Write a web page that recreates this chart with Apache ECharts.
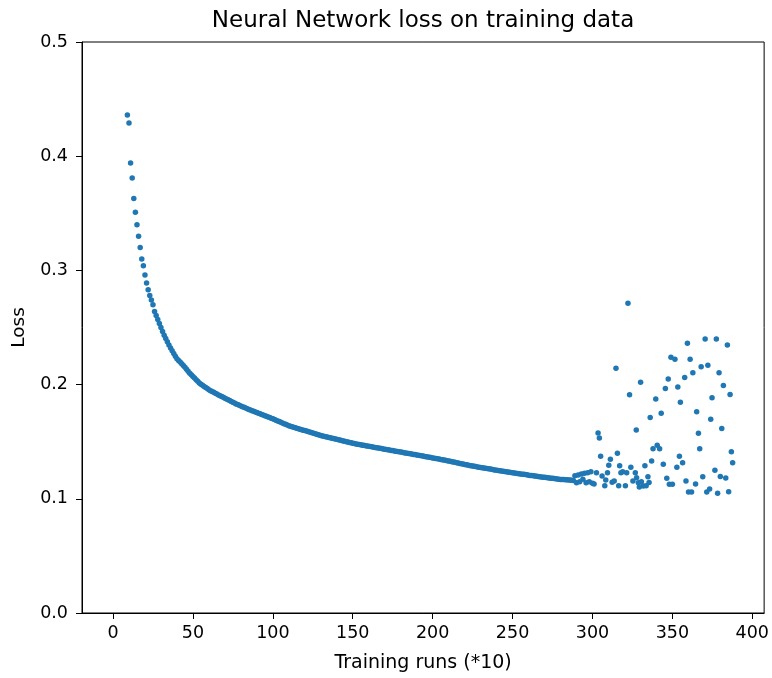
<!DOCTYPE html>
<html>
<head>
<meta charset="utf-8">
<title>Neural Network loss on training data</title>
<script src="https://cdn.jsdelivr.net/npm/echarts@6/dist/echarts.min.js"></script>
<style>
  html, body { margin: 0; padding: 0; background: #ffffff; }
  #chart { width: 772px; height: 678px; }
</style>
</head>
<body>
<div id="chart"></div>
<script>
// Loss recorded every 10 training runs; steady phase uses consecutive run indices
const steadyStart = 9;
const steadyLoss = [
  // 9-18
  0.436,0.429,0.394,0.381,0.363,0.351,0.340,0.330,0.320,0.310,
  // 19-28
  0.304,0.296,0.289,0.283,0.278,0.274,0.270,0.264,0.2605,0.2570,
  // 29-38
  0.2535,0.2499,0.2464,0.2433,0.2404,0.2376,0.2347,0.2320,0.2297,0.2273,
  // 39-48
  0.2249,0.2227,0.2212,0.2198,0.2183,0.2168,0.2151,0.2134,0.2117,0.2100,
  // 49-58
  0.2086,0.2071,0.2057,0.2043,0.2029,0.2014,0.2003,0.1994,0.1984,0.1974,
  // 59-68
  0.1965,0.1955,0.1946,0.1939,0.1932,0.1925,0.1917,0.1910,0.1903,0.1896,
  // 69-78
  0.1889,0.1881,0.1874,0.1867,0.1860,0.1853,0.1846,0.1839,0.1831,0.1825,
  // 79-88
  0.1819,0.1813,0.1807,0.1801,0.1795,0.1789,0.1783,0.1777,0.1772,0.1766,
  // 89-98
  0.1761,0.1755,0.1750,0.1744,0.1739,0.1733,0.1728,0.1722,0.1717,0.1711,
  // 99-108
  0.1706,0.1700,0.1694,0.1688,0.1682,0.1676,0.1670,0.1664,0.1658,0.1652,
  // 109-118
  0.1646,0.1640,0.1635,0.1631,0.1627,0.1622,0.1618,0.1614,0.1610,0.1605,
  // 119-128
  0.1601,0.1597,0.1593,0.1589,0.1584,0.1580,0.1576,0.1572,0.1568,0.1563,
  // 129-138
  0.1559,0.1555,0.1551,0.1547,0.1544,0.1541,0.1537,0.1534,0.1531,0.1527,
  // 139-148
  0.1524,0.1521,0.1517,0.1514,0.1510,0.1507,0.1504,0.1500,0.1497,0.1494,
  // 149-158
  0.1490,0.1487,0.1484,0.1480,0.1478,0.1475,0.1473,0.1470,0.1468,0.1465,
  // 159-168
  0.1462,0.1460,0.1457,0.1455,0.1452,0.1450,0.1447,0.1445,0.1442,0.1440,
  // 169-178
  0.1437,0.1434,0.1432,0.1429,0.1427,0.1424,0.1422,0.1419,0.1417,0.1414,
  // 179-188
  0.1412,0.1409,0.1407,0.1404,0.1402,0.1399,0.1397,0.1394,0.1392,0.1389,
  // 189-198
  0.1387,0.1384,0.1382,0.1379,0.1377,0.1374,0.1371,0.1369,0.1366,0.1363,
  // 199-208
  0.1361,0.1358,0.1356,0.1353,0.1350,0.1348,0.1345,0.1343,0.1340,0.1337,
  // 209-218
  0.1334,0.1331,0.1328,0.1325,0.1322,0.1319,0.1316,0.1313,0.1310,0.1307,
  // 219-228
  0.1304,0.1301,0.1298,0.1295,0.1292,0.1289,0.1287,0.1284,0.1282,0.1279,
  // 229-238
  0.1277,0.1275,0.1272,0.1270,0.1267,0.1265,0.1263,0.1260,0.1258,0.1255,
  // 239-248
  0.1253,0.1251,0.1248,0.1246,0.1243,0.1241,0.1239,0.1236,0.1234,0.1232,
  // 249-258
  0.1230,0.1228,0.1226,0.1224,0.1222,0.1220,0.1218,0.1216,0.1214,0.1212,
  // 259-268
  0.1210,0.1207,0.1205,0.1203,0.1201,0.1199,0.1197,0.1195,0.1193,0.1191,
  // 269-278
  0.1189,0.1188,0.1186,0.1184,0.1182,0.1180,0.1179,0.1177,0.1175,0.1173,
  // 279-288
  0.1171,0.1170,0.1169,0.1168,0.1167,0.1166,0.1165,0.1165,0.1163,0.1160,
  // 289-298
  0.1202,0.1141,0.1208,0.1150,0.1217,0.1171,0.1223,0.1141,0.1229,0.1150,
  // 299-301
  0.1237,0.1136,0.1130
];

// Unstable phase: run index and loss for each recorded point
const lateRuns = [
  302.5,303.5,304.3,305.1,306.0,307.7,308.3,309.4,310.2,311.2,
  312.3,313.6,314.7,315.6,316.4,317.0,317.8,318.9,320.6,321.4,
  322.2,323.2,324.0,325.3,326.8,327.4,327.6,328.7,329.3,330.1,
  330.6,331.8,332.8,333.6,334.7,335.4,336.1,337.0,337.9,339.6,
  340.5,342.0,343.0,344.3,345.6,346.5,347.4,348.1,349.1,350.0,
  351.6,352.8,353.4,354.4,355.0,356.4,357.7,358.5,359.4,360.1,
  361.1,362.0,362.8,364.5,365.2,366.3,367.1,368.0,369.0,370.5,
  371.5,372.2,373.3,374.0,374.8,376.6,377.5,378.3,379.2,380.0,
  380.9,381.9,383.4,384.4,385.2,386.1,386.9,387.7
];
const lateLoss = [
  0.1229,0.1576,0.1532,0.1372,0.1199,0.1115,0.1165,0.1229,0.1293,0.1346,
  0.1145,0.1156,0.2143,0.1398,0.1115,0.1290,0.1229,0.1237,0.1115,0.1229,
  0.2712,0.1912,0.1276,0.1156,0.1229,0.1602,0.1185,0.1141,0.1104,0.2020,
  0.1150,0.1112,0.1290,0.1115,0.1194,0.1143,0.1711,0.1330,0.1439,0.1873,
  0.1468,0.1439,0.1750,0.1303,0.1965,0.1180,0.2048,0.1128,0.2239,0.1127,
  0.2222,0.1276,0.1980,0.1373,0.1845,0.1316,0.2062,0.1156,0.2362,0.1060,
  0.2222,0.1060,0.2103,0.1130,0.1763,0.1574,0.1439,0.2156,0.1194,0.2399,
  0.1060,0.2169,0.1086,0.1696,0.1885,0.1250,0.2399,0.1048,0.2103,0.1196,
  0.1615,0.1992,0.1182,0.2347,0.1061,0.1913,0.1413,0.1316
];

const xTicks = [0, 50, 100, 150, 200, 250, 300, 350, 400];

const points = steadyLoss.map((v, i) => [steadyStart + i, v])
  .concat(lateRuns.map((r, i) => [r, lateLoss[i]]));

const FONT = 'DejaVu Sans';
const INK = '#000000';

const chart = echarts.init(document.getElementById('chart'), null, { renderer: 'canvas' });
chart.setOption({
  animation: false,
  backgroundColor: '#ffffff',
  title: {
    text: 'Neural Network loss on training data',
    left: 418,
    top: 5,
    textAlign: 'center',
    textStyle: { fontFamily: FONT, fontSize: 23, fontWeight: 'normal', color: INK }
  },
  grid: {
    left: 82, right: 5, top: 42, bottom: 65,
    show: true, borderColor: INK, borderWidth: 1, backgroundColor: 'transparent'
  },
  xAxis: {
    type: 'value',
    min: -19.4,
    max: 407.4,
    name: 'Training runs (*10)',
    nameLocation: 'middle',
    nameGap: 41,
    nameTextStyle: { fontFamily: FONT, fontSize: 19, color: INK },
    axisLine: { show: true, onZero: false, lineStyle: { color: INK, width: 1 } },
    axisTick: { show: true, length: 6, customValues: xTicks, lineStyle: { color: INK, width: 1 } },
    axisLabel: {
      customValues: xTicks,
      margin: 11,
      fontFamily: FONT, fontSize: 17.5, color: INK
    },
    splitLine: { show: false }
  },
  yAxis: {
    type: 'value',
    min: 0,
    max: 0.5,
    interval: 0.1,
    name: 'Loss',
    nameLocation: 'middle',
    nameGap: 53,
    nameTextStyle: { fontFamily: FONT, fontSize: 18.5, color: INK },
    axisLine: { show: true, onZero: false, lineStyle: { color: INK, width: 1 } },
    axisTick: { show: true, length: 6, lineStyle: { color: INK, width: 1 } },
    axisLabel: {
      margin: 14,
      fontFamily: FONT, fontSize: 17.5, color: INK,
      formatter: v => v.toFixed(1)
    },
    splitLine: { show: false }
  },
  series: [{
    type: 'scatter',
    data: points,
    symbol: 'circle',
    symbolSize: 5.5,
    clip: true,
    itemStyle: { color: '#1f77b4', opacity: 1 },
    emphasis: { disabled: true }
  }]
});
</script>
</body>
</html>
